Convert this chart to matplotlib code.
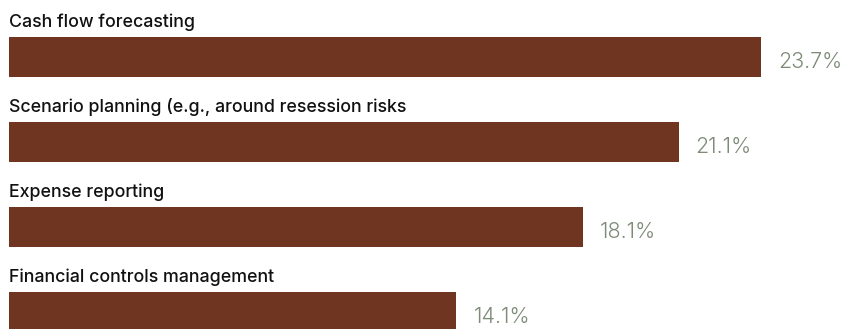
import matplotlib
matplotlib.use("Agg")
from matplotlib import pyplot as plt

categories = [
    "Cash flow forecasting",
    "Scenario planning (e.g., around resession risks",
    "Expense reporting",
    "Financial controls management",
]
values = [23.7, 21.1, 18.1, 14.1]
value_labels = ["23.7%", "21.1%", "18.1%", "14.1%"]

bar_color = "#6f3520"
label_color = "#111111"
value_color = "#7d8b77"

plt.rcParams["font.family"] = ["Inter", "DejaVu Sans"]

fig = plt.figure(figsize=(8.56, 3.29), dpi=100)
ax = fig.add_axes([0, 0, 1, 1])

px = 752 / 23.7  # pixels per percentage point
pitch = 85.0     # pixels between bars

pos = list(range(len(values)))
ax.barh(pos, values, height=40 / pitch, color=bar_color, left=0)

for i, (cat, v, lab) in enumerate(zip(categories, values, value_labels)):
    ax.text(0, i - 30 / pitch, cat, ha="left", va="baseline",
            fontsize=12.8, fontweight=500, color=label_color)
    ax.text(v + 17 / px, i + 10.7 / pitch, lab, ha="left", va="baseline",
            fontsize=15.5, fontweight=300, color=value_color)

ax.set_xlim(-9 / px, (856 - 9) / px)
ax.set_ylim((329 - 57) / pitch, -57 / pitch)
ax.axis("off")

fig.savefig("out.png", dpi=100)
